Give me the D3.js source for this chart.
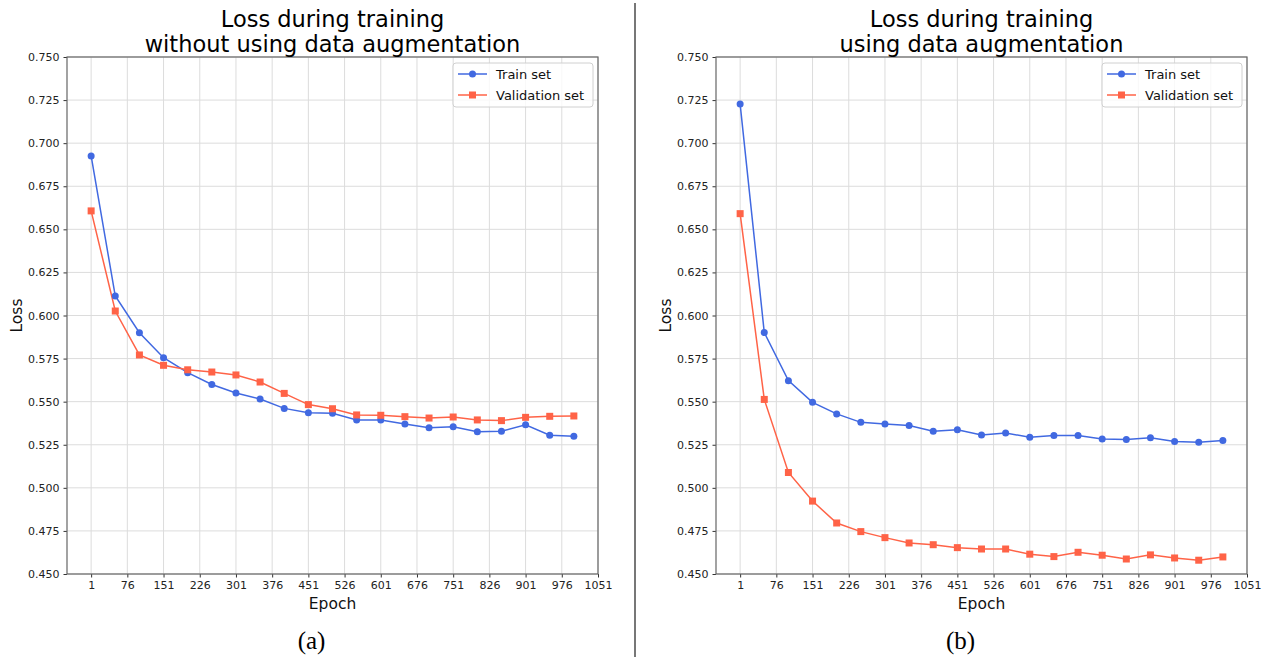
<!DOCTYPE html>
<html>
<head>
<meta charset="utf-8">
<script src="https://cdn.jsdelivr.net/npm/d3@7"></script>
<style>
  body { margin: 0; background: #fff; }
  svg { display: block; }
</style>
</head>
<body>
<div class="container"></div>
<script>
// epochs at which loss was logged
var epochs = [1, 51, 101, 151, 201, 251, 301, 351, 401, 451, 501,
  551, 601, 651, 701, 751, 801, 851, 901, 951, 1001];
var xTicks = [1, 76, 151, 226, 301, 376, 451, 526, 601, 676, 751, 826, 901, 976, 1051];
var yTicks = [0.450, 0.475, 0.500, 0.525, 0.550, 0.575, 0.600, 0.625, 0.650, 0.675, 0.700, 0.725, 0.750];

// (a) without augmentation
var trainNoAug = [0.6926, 0.6113, 0.5900, 0.5755, 0.5668, 0.5600, 0.5550, 0.5515, 0.5461, 0.5436, 0.5433,
  0.5394, 0.5394, 0.5371, 0.5349, 0.5355, 0.5326, 0.5328, 0.5366, 0.5305, 0.5299];
var valNoAug = [0.6607, 0.6026, 0.5771, 0.5711, 0.5685, 0.5672, 0.5655, 0.5614, 0.5548, 0.5483, 0.5459,
  0.5423, 0.5421, 0.5413, 0.5405, 0.5411, 0.5394, 0.5390, 0.5409, 0.5415, 0.5417];

// (b) with augmentation
var trainAug = [0.7227, 0.5901, 0.5622, 0.5496, 0.5429, 0.5380, 0.5370, 0.5362, 0.5329, 0.5337, 0.5306,
  0.5318, 0.5294, 0.5303, 0.5304, 0.5283, 0.5281, 0.5291, 0.5269, 0.5265, 0.5274];
var valAug = [0.6591, 0.5513, 0.5089, 0.4923, 0.4796, 0.4746, 0.4711, 0.4680, 0.4670, 0.4653, 0.4645,
  0.4645, 0.4615, 0.4601, 0.4626, 0.4609, 0.4587, 0.4611, 0.4593, 0.4580, 0.4599];

var seriesNames = ["Train set", "Validation set"];

const WIDTH = 1267;
const HEIGHT = 657;
const TOP = 57, BOTTOM = 574;
const PLOT_W = 531;
const BLUE = "#4169e1", RED = "#ff6347";
const FONT = "DejaVu Sans, sans-serif";

var translate = function (x, y) {
  return "translate(" + x + "," + y + ")";
};

var _svg = d3.select('.container').append('svg')
  .attr('width', WIDTH)
  .attr('height', HEIGHT)
  .style('background', '#fff');

// divider between the panels
_svg.append('line')
  .attr('x1', 635).attr('x2', 635)
  .attr('y1', 3).attr('y2', HEIGHT)
  .attr('stroke', '#777').attr('stroke-width', 2);

var drawPanel = function (left, titleLines, train, val, caption) {
  var g = _svg.append('g').attr('transform', translate(left, 0));

  var x = d3.scaleLinear().domain([-49, 1051]).range([0, PLOT_W]);
  var y = d3.scaleLinear().domain([0.45, 0.75]).range([BOTTOM, TOP]);

  // grid
  g.append('g').selectAll('line').data(xTicks).enter().append('line')
    .attr('x1', function (d) { return x(d); }).attr('x2', function (d) { return x(d); })
    .attr('y1', TOP).attr('y2', BOTTOM)
    .attr('stroke', '#dcdcdc').attr('stroke-width', 1);
  g.append('g').selectAll('line').data(yTicks).enter().append('line')
    .attr('x1', 0).attr('x2', PLOT_W)
    .attr('y1', function (d) { return y(d); }).attr('y2', function (d) { return y(d); })
    .attr('stroke', '#dcdcdc').attr('stroke-width', 1);

  // axes
  var xAxis = d3.axisBottom(x).tickValues(xTicks).tickSize(3.5).tickPadding(4)
    .tickFormat(d3.format('d'));
  var yAxis = d3.axisLeft(y).tickValues(yTicks).tickSize(3.5).tickPadding(4)
    .tickFormat(d3.format('.3f'));

  var gx = g.append('g').attr('transform', translate(0, BOTTOM)).call(xAxis);
  var gy = g.append('g').call(yAxis);
  [gx, gy].forEach(function (a) {
    a.select('.domain').remove();
    a.selectAll('line').attr('stroke', '#333');
    a.selectAll('text').attr('fill', '#222').style('font-family', FONT).style('font-size', '11px');
  });

  // frame
  g.append('rect')
    .attr('x', 0).attr('y', TOP).attr('width', PLOT_W).attr('height', BOTTOM - TOP)
    .attr('fill', 'none').attr('stroke', '#666').attr('stroke-width', 1.2);

  // lines + markers
  var line = d3.line()
    .x(function (d, i) { return x(epochs[i]); })
    .y(function (d) { return y(d); });

  g.append('path').datum(train).attr('d', line)
    .attr('fill', 'none').attr('stroke', BLUE).attr('stroke-width', 1.5);
  g.append('path').datum(val).attr('d', line)
    .attr('fill', 'none').attr('stroke', RED).attr('stroke-width', 1.5);

  g.append('g').selectAll('circle').data(train).enter().append('circle')
    .attr('cx', function (d, i) { return x(epochs[i]); })
    .attr('cy', function (d) { return y(d); })
    .attr('r', 3.5).attr('fill', BLUE);
  g.append('g').selectAll('rect').data(val).enter().append('rect')
    .attr('x', function (d, i) { return x(epochs[i]) - 3.5; })
    .attr('y', function (d) { return y(d) - 3.5; })
    .attr('width', 7).attr('height', 7).attr('fill', RED);

  // legend
  var lg = g.append('g').attr('transform', translate(PLOT_W - 145, TOP + 6));
  lg.append('rect')
    .attr('width', 140).attr('height', 44).attr('rx', 3)
    .attr('fill', '#fff').attr('fill-opacity', 0.8)
    .attr('stroke', '#d0d0d0');
  seriesNames.forEach(function (name, i) {
    var yy = 11 + i * 21;
    var col = i === 0 ? BLUE : RED;
    lg.append('line').attr('x1', 5).attr('x2', 34).attr('y1', yy).attr('y2', yy)
      .attr('stroke', col).attr('stroke-width', 1.5);
    if (i === 0) {
      lg.append('circle').attr('cx', 19.5).attr('cy', yy).attr('r', 3.5).attr('fill', col);
    } else {
      lg.append('rect').attr('x', 16).attr('y', yy - 3.5).attr('width', 7).attr('height', 7).attr('fill', col);
    }
    lg.append('text').attr('x', 43).attr('y', yy + 4.5)
      .style('font-family', FONT).style('font-size', '13px').attr('fill', '#111')
      .text(name);
  });

  // titles and labels
  titleLines.forEach(function (t, i) {
    g.append('text').attr('x', PLOT_W / 2).attr('y', 27 + i * 25)
      .attr('text-anchor', 'middle')
      .style('font-family', FONT).style('font-size', '22.5px').attr('fill', '#000')
      .text(t);
  });
  g.append('text').attr('x', PLOT_W / 2).attr('y', 609)
    .attr('text-anchor', 'middle')
    .style('font-family', FONT).style('font-size', '15.5px').attr('fill', '#111')
    .text('Epoch');
  g.append('text')
    .attr('transform', translate(-45, (TOP + BOTTOM) / 2) + ' rotate(-90)')
    .attr('text-anchor', 'middle')
    .style('font-family', FONT).style('font-size', '15.5px').attr('fill', '#111')
    .text('Loss');
  g.append('text').attr('x', PLOT_W / 2 - 21).attr('y', 649)
    .attr('text-anchor', 'middle')
    .style('font-family', 'Liberation Serif, Times New Roman, serif').style('font-size', '25px').attr('fill', '#000')
    .text(caption);
};

drawPanel(67, ["Loss during training", "without using data augmentation"], trainNoAug, valNoAug, "(a)");
drawPanel(716, ["Loss during training", "using data augmentation"], trainAug, valAug, "(b)");
</script>
</body>
</html>
